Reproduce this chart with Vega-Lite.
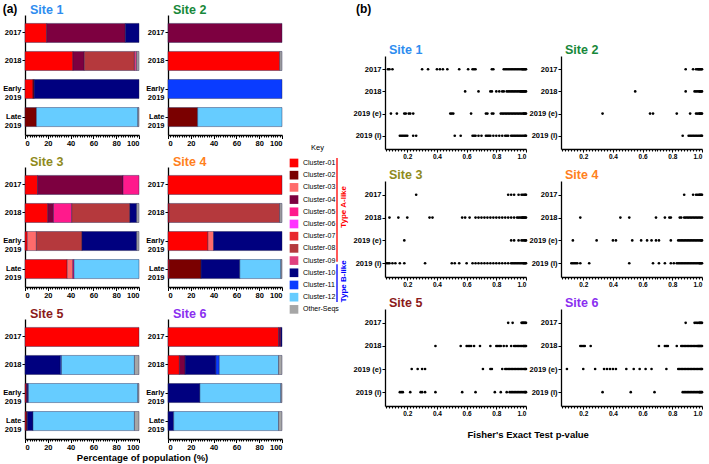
{
"$schema": "https://vega.github.io/schema/vega-lite/v6.json",
"padding": {"left": 2, "top": 2, "right": 0, "bottom": 0},
"background": "white",
"spacing": 0,
"datasets": {
"bars": [
{"site":1,"period":"2017","cluster":"Cluster-01","pct":19},{"site":1,"period":"2017","cluster":"Cluster-04","pct":69},{"site":1,"period":"2017","cluster":"Cluster-10","pct":12},
{"site":1,"period":"2018","cluster":"Cluster-01","pct":42},{"site":1,"period":"2018","cluster":"Cluster-04","pct":10},{"site":1,"period":"2018","cluster":"Cluster-08","pct":44},{"site":1,"period":"2018","cluster":"Cluster-09","pct":2},{"site":1,"period":"2018","cluster":"Other-Seqs","pct":2},
{"site":1,"period":"Early 2019","cluster":"Cluster-01","pct":7},{"site":1,"period":"Early 2019","cluster":"Cluster-02","pct":1},{"site":1,"period":"Early 2019","cluster":"Cluster-10","pct":92},
{"site":1,"period":"Late 2019","cluster":"Cluster-02","pct":10},{"site":1,"period":"Late 2019","cluster":"Cluster-12","pct":89},{"site":1,"period":"Late 2019","cluster":"Other-Seqs","pct":1},
{"site":2,"period":"2017","cluster":"Cluster-04","pct":100},
{"site":2,"period":"2018","cluster":"Cluster-01","pct":98},{"site":2,"period":"2018","cluster":"Other-Seqs","pct":2},
{"site":2,"period":"Early 2019","cluster":"Cluster-11","pct":100},
{"site":2,"period":"Late 2019","cluster":"Cluster-02","pct":26},{"site":2,"period":"Late 2019","cluster":"Cluster-12","pct":74},
{"site":3,"period":"2017","cluster":"Cluster-01","pct":11},{"site":3,"period":"2017","cluster":"Cluster-04","pct":75},{"site":3,"period":"2017","cluster":"Cluster-05","pct":14},
{"site":3,"period":"2018","cluster":"Cluster-01","pct":20},{"site":3,"period":"2018","cluster":"Cluster-04","pct":5},{"site":3,"period":"2018","cluster":"Cluster-05","pct":16},{"site":3,"period":"2018","cluster":"Cluster-08","pct":51},{"site":3,"period":"2018","cluster":"Cluster-10","pct":6},{"site":3,"period":"2018","cluster":"Other-Seqs","pct":2},
{"site":3,"period":"Early 2019","cluster":"Cluster-01","pct":2},{"site":3,"period":"Early 2019","cluster":"Cluster-03","pct":8},{"site":3,"period":"Early 2019","cluster":"Cluster-08","pct":40},{"site":3,"period":"Early 2019","cluster":"Cluster-10","pct":48},{"site":3,"period":"Early 2019","cluster":"Other-Seqs","pct":2},
{"site":3,"period":"Late 2019","cluster":"Cluster-01","pct":37},{"site":3,"period":"Late 2019","cluster":"Cluster-03","pct":5},{"site":3,"period":"Late 2019","cluster":"Cluster-05","pct":1},{"site":3,"period":"Late 2019","cluster":"Cluster-12","pct":57},
{"site":4,"period":"2017","cluster":"Cluster-01","pct":100},
{"site":4,"period":"2018","cluster":"Cluster-01","pct":1},{"site":4,"period":"2018","cluster":"Cluster-08","pct":97},{"site":4,"period":"2018","cluster":"Other-Seqs","pct":2},
{"site":4,"period":"Early 2019","cluster":"Cluster-01","pct":35},{"site":4,"period":"Early 2019","cluster":"Cluster-03","pct":5},{"site":4,"period":"Early 2019","cluster":"Cluster-10","pct":60},
{"site":4,"period":"Late 2019","cluster":"Cluster-01","pct":1},{"site":4,"period":"Late 2019","cluster":"Cluster-02","pct":28},{"site":4,"period":"Late 2019","cluster":"Cluster-10","pct":34},{"site":4,"period":"Late 2019","cluster":"Cluster-12","pct":36},{"site":4,"period":"Late 2019","cluster":"Other-Seqs","pct":1},
{"site":5,"period":"2017","cluster":"Cluster-01","pct":100},
{"site":5,"period":"2018","cluster":"Cluster-10","pct":31},{"site":5,"period":"2018","cluster":"Cluster-11","pct":1},{"site":5,"period":"2018","cluster":"Cluster-12","pct":64},{"site":5,"period":"2018","cluster":"Other-Seqs","pct":4},
{"site":5,"period":"Early 2019","cluster":"Cluster-01","pct":1},{"site":5,"period":"Early 2019","cluster":"Cluster-04","pct":1},{"site":5,"period":"Early 2019","cluster":"Cluster-10","pct":1},{"site":5,"period":"Early 2019","cluster":"Cluster-12","pct":96},{"site":5,"period":"Early 2019","cluster":"Other-Seqs","pct":1},
{"site":5,"period":"Late 2019","cluster":"Cluster-01","pct":1},{"site":5,"period":"Late 2019","cluster":"Cluster-02","pct":1},{"site":5,"period":"Late 2019","cluster":"Cluster-10","pct":5},{"site":5,"period":"Late 2019","cluster":"Cluster-12","pct":89},{"site":5,"period":"Late 2019","cluster":"Other-Seqs","pct":4},
{"site":6,"period":"2017","cluster":"Cluster-01","pct":97},{"site":6,"period":"2017","cluster":"Cluster-04","pct":2},{"site":6,"period":"2017","cluster":"Cluster-10","pct":1},
{"site":6,"period":"2018","cluster":"Cluster-01","pct":10},{"site":6,"period":"2018","cluster":"Cluster-04","pct":5},{"site":6,"period":"2018","cluster":"Cluster-10","pct":27},{"site":6,"period":"2018","cluster":"Cluster-11","pct":3},{"site":6,"period":"2018","cluster":"Cluster-12","pct":52},{"site":6,"period":"2018","cluster":"Other-Seqs","pct":3},
{"site":6,"period":"Early 2019","cluster":"Cluster-10","pct":28},{"site":6,"period":"Early 2019","cluster":"Cluster-12","pct":71},{"site":6,"period":"Early 2019","cluster":"Other-Seqs","pct":1},
{"site":6,"period":"Late 2019","cluster":"Cluster-10","pct":5},{"site":6,"period":"Late 2019","cluster":"Cluster-12","pct":92},{"site":6,"period":"Late 2019","cluster":"Other-Seqs","pct":3}
],
"keys": [
{"cluster":"Cluster-01","i":1},{"cluster":"Cluster-02","i":2},{"cluster":"Cluster-03","i":3},{"cluster":"Cluster-04","i":4},{"cluster":"Cluster-05","i":5},{"cluster":"Cluster-06","i":6},{"cluster":"Cluster-07","i":7},{"cluster":"Cluster-08","i":8},{"cluster":"Cluster-09","i":9},{"cluster":"Cluster-10","i":10},{"cluster":"Cluster-11","i":11},{"cluster":"Cluster-12","i":12},{"cluster":"Other-Seqs","i":13}
],
"groups": [
{"g":"Type A-like","from":0.6,"to":9.1,"mid":4.6},{"g":"Type B-like","from":9.3,"to":12.4,"mid":10.7}
],
"pv": [
{"s":1,"t":"2017","p":0.07},{"s":1,"t":"2017","p":0.08},{"s":1,"t":"2017","p":0.10},{"s":1,"t":"2017","p":0.30},{"s":1,"t":"2017","p":0.34},{"s":1,"t":"2017","p":0.40},{"s":1,"t":"2017","p":0.42},{"s":1,"t":"2017","p":0.44},{"s":1,"t":"2017","p":0.47},{"s":1,"t":"2017","p":0.55},{"s":1,"t":"2017","p":0.61},{"s":1,"t":"2017","p":0.64},{"s":1,"t":"2017","p":0.65},{"s":1,"t":"2017","p":0.66},{"s":1,"t":"2017","p":0.77},{"s":1,"t":"2017","p":0.78},{"s":1,"t":"2017","p":0.85},{"s":1,"t":"2017","p":0.86},{"s":1,"t":"2017","p":0.87},{"s":1,"t":"2017","p":0.88},{"s":1,"t":"2017","p":0.89},{"s":1,"t":"2017","p":0.90},{"s":1,"t":"2017","p":0.91},{"s":1,"t":"2017","p":0.92},{"s":1,"t":"2017","p":0.93},{"s":1,"t":"2017","p":0.94},{"s":1,"t":"2017","p":0.95},{"s":1,"t":"2017","p":0.96},{"s":1,"t":"2017","p":0.97},{"s":1,"t":"2017","p":0.975},{"s":1,"t":"2017","p":0.98},{"s":1,"t":"2017","p":0.985},{"s":1,"t":"2017","p":0.99},{"s":1,"t":"2017","p":0.995},{"s":1,"t":"2017","p":1.0},
{"s":1,"t":"2018","p":0.59},{"s":1,"t":"2018","p":0.68},{"s":1,"t":"2018","p":0.76},{"s":1,"t":"2018","p":0.77},{"s":1,"t":"2018","p":0.80},{"s":1,"t":"2018","p":0.82},{"s":1,"t":"2018","p":0.84},{"s":1,"t":"2018","p":0.85},{"s":1,"t":"2018","p":0.87},{"s":1,"t":"2018","p":0.88},{"s":1,"t":"2018","p":0.89},{"s":1,"t":"2018","p":0.90},{"s":1,"t":"2018","p":0.91},{"s":1,"t":"2018","p":0.92},{"s":1,"t":"2018","p":0.93},{"s":1,"t":"2018","p":0.94},{"s":1,"t":"2018","p":0.95},{"s":1,"t":"2018","p":0.96},{"s":1,"t":"2018","p":0.965},{"s":1,"t":"2018","p":0.97},{"s":1,"t":"2018","p":0.975},{"s":1,"t":"2018","p":0.98},{"s":1,"t":"2018","p":0.985},{"s":1,"t":"2018","p":0.99},{"s":1,"t":"2018","p":0.995},{"s":1,"t":"2018","p":1.0},
{"s":1,"t":"2019 (e)","p":0.09},{"s":1,"t":"2019 (e)","p":0.13},{"s":1,"t":"2019 (e)","p":0.18},{"s":1,"t":"2019 (e)","p":0.19},{"s":1,"t":"2019 (e)","p":0.21},{"s":1,"t":"2019 (e)","p":0.22},{"s":1,"t":"2019 (e)","p":0.24},{"s":1,"t":"2019 (e)","p":0.49},{"s":1,"t":"2019 (e)","p":0.50},{"s":1,"t":"2019 (e)","p":0.51},{"s":1,"t":"2019 (e)","p":0.63},{"s":1,"t":"2019 (e)","p":0.73},{"s":1,"t":"2019 (e)","p":0.74},{"s":1,"t":"2019 (e)","p":0.77},{"s":1,"t":"2019 (e)","p":0.78},{"s":1,"t":"2019 (e)","p":0.83},{"s":1,"t":"2019 (e)","p":0.84},{"s":1,"t":"2019 (e)","p":0.85},{"s":1,"t":"2019 (e)","p":0.86},{"s":1,"t":"2019 (e)","p":0.87},{"s":1,"t":"2019 (e)","p":0.88},{"s":1,"t":"2019 (e)","p":0.89},{"s":1,"t":"2019 (e)","p":0.90},{"s":1,"t":"2019 (e)","p":0.91},{"s":1,"t":"2019 (e)","p":0.92},{"s":1,"t":"2019 (e)","p":0.93},{"s":1,"t":"2019 (e)","p":0.94},{"s":1,"t":"2019 (e)","p":0.95},{"s":1,"t":"2019 (e)","p":0.96},{"s":1,"t":"2019 (e)","p":0.97},{"s":1,"t":"2019 (e)","p":0.98},{"s":1,"t":"2019 (e)","p":0.985},{"s":1,"t":"2019 (e)","p":0.99},{"s":1,"t":"2019 (e)","p":0.995},{"s":1,"t":"2019 (e)","p":1.0},
{"s":1,"t":"2019 (l)","p":0.15},{"s":1,"t":"2019 (l)","p":0.16},{"s":1,"t":"2019 (l)","p":0.17},{"s":1,"t":"2019 (l)","p":0.18},{"s":1,"t":"2019 (l)","p":0.19},{"s":1,"t":"2019 (l)","p":0.20},{"s":1,"t":"2019 (l)","p":0.24},{"s":1,"t":"2019 (l)","p":0.26},{"s":1,"t":"2019 (l)","p":0.52},{"s":1,"t":"2019 (l)","p":0.56},{"s":1,"t":"2019 (l)","p":0.64},{"s":1,"t":"2019 (l)","p":0.65},{"s":1,"t":"2019 (l)","p":0.66},{"s":1,"t":"2019 (l)","p":0.68},{"s":1,"t":"2019 (l)","p":0.70},{"s":1,"t":"2019 (l)","p":0.73},{"s":1,"t":"2019 (l)","p":0.74},{"s":1,"t":"2019 (l)","p":0.75},{"s":1,"t":"2019 (l)","p":0.76},{"s":1,"t":"2019 (l)","p":0.78},{"s":1,"t":"2019 (l)","p":0.80},{"s":1,"t":"2019 (l)","p":0.82},{"s":1,"t":"2019 (l)","p":0.84},{"s":1,"t":"2019 (l)","p":0.86},{"s":1,"t":"2019 (l)","p":0.87},{"s":1,"t":"2019 (l)","p":0.88},{"s":1,"t":"2019 (l)","p":0.90},{"s":1,"t":"2019 (l)","p":0.91},{"s":1,"t":"2019 (l)","p":0.92},{"s":1,"t":"2019 (l)","p":0.93},{"s":1,"t":"2019 (l)","p":0.94},{"s":1,"t":"2019 (l)","p":0.95},{"s":1,"t":"2019 (l)","p":0.96},{"s":1,"t":"2019 (l)","p":0.97},{"s":1,"t":"2019 (l)","p":0.98},{"s":1,"t":"2019 (l)","p":0.99},{"s":1,"t":"2019 (l)","p":0.995},{"s":1,"t":"2019 (l)","p":1.0},
{"s":2,"t":"2017","p":0.89},{"s":2,"t":"2017","p":0.94},{"s":2,"t":"2017","p":0.96},{"s":2,"t":"2017","p":0.97},{"s":2,"t":"2017","p":0.975},{"s":2,"t":"2017","p":0.98},{"s":2,"t":"2017","p":0.985},{"s":2,"t":"2017","p":0.99},{"s":2,"t":"2017","p":0.995},{"s":2,"t":"2017","p":1.0},
{"s":2,"t":"2018","p":0.55},{"s":2,"t":"2018","p":0.89},{"s":2,"t":"2018","p":0.95},{"s":2,"t":"2018","p":0.96},{"s":2,"t":"2018","p":0.97},{"s":2,"t":"2018","p":0.98},{"s":2,"t":"2018","p":0.985},{"s":2,"t":"2018","p":0.99},{"s":2,"t":"2018","p":0.995},{"s":2,"t":"2018","p":1.0},
{"s":2,"t":"2019 (e)","p":0.33},{"s":2,"t":"2019 (e)","p":0.65},{"s":2,"t":"2019 (e)","p":0.67},{"s":2,"t":"2019 (e)","p":0.83},{"s":2,"t":"2019 (e)","p":0.92},{"s":2,"t":"2019 (e)","p":0.96},{"s":2,"t":"2019 (e)","p":0.97},{"s":2,"t":"2019 (e)","p":0.98},{"s":2,"t":"2019 (e)","p":0.985},{"s":2,"t":"2019 (e)","p":0.99},{"s":2,"t":"2019 (e)","p":0.995},{"s":2,"t":"2019 (e)","p":1.0},
{"s":2,"t":"2019 (l)","p":0.87},{"s":2,"t":"2019 (l)","p":0.91},{"s":2,"t":"2019 (l)","p":0.92},{"s":2,"t":"2019 (l)","p":0.93},{"s":2,"t":"2019 (l)","p":0.94},{"s":2,"t":"2019 (l)","p":0.95},{"s":2,"t":"2019 (l)","p":0.96},{"s":2,"t":"2019 (l)","p":0.97},{"s":2,"t":"2019 (l)","p":0.98},{"s":2,"t":"2019 (l)","p":0.99},{"s":2,"t":"2019 (l)","p":0.995},{"s":2,"t":"2019 (l)","p":1.0},
{"s":3,"t":"2017","p":0.26},{"s":3,"t":"2017","p":0.88},{"s":3,"t":"2017","p":0.90},{"s":3,"t":"2017","p":0.92},{"s":3,"t":"2017","p":0.95},{"s":3,"t":"2017","p":0.97},{"s":3,"t":"2017","p":0.98},{"s":3,"t":"2017","p":0.99},{"s":3,"t":"2017","p":0.995},{"s":3,"t":"2017","p":1.0},
{"s":3,"t":"2018","p":0.08},{"s":3,"t":"2018","p":0.14},{"s":3,"t":"2018","p":0.20},{"s":3,"t":"2018","p":0.35},{"s":3,"t":"2018","p":0.37},{"s":3,"t":"2018","p":0.57},{"s":3,"t":"2018","p":0.59},{"s":3,"t":"2018","p":0.62},{"s":3,"t":"2018","p":0.66},{"s":3,"t":"2018","p":0.68},{"s":3,"t":"2018","p":0.70},{"s":3,"t":"2018","p":0.72},{"s":3,"t":"2018","p":0.74},{"s":3,"t":"2018","p":0.76},{"s":3,"t":"2018","p":0.78},{"s":3,"t":"2018","p":0.80},{"s":3,"t":"2018","p":0.82},{"s":3,"t":"2018","p":0.84},{"s":3,"t":"2018","p":0.86},{"s":3,"t":"2018","p":0.88},{"s":3,"t":"2018","p":0.90},{"s":3,"t":"2018","p":0.92},{"s":3,"t":"2018","p":0.94},{"s":3,"t":"2018","p":0.95},{"s":3,"t":"2018","p":0.96},{"s":3,"t":"2018","p":0.97},{"s":3,"t":"2018","p":0.975},{"s":3,"t":"2018","p":0.98},{"s":3,"t":"2018","p":0.985},{"s":3,"t":"2018","p":0.99},{"s":3,"t":"2018","p":0.995},{"s":3,"t":"2018","p":1.0},
{"s":3,"t":"2019 (e)","p":0.18},{"s":3,"t":"2019 (e)","p":0.90},{"s":3,"t":"2019 (e)","p":0.92},{"s":3,"t":"2019 (e)","p":0.95},{"s":3,"t":"2019 (e)","p":0.97},{"s":3,"t":"2019 (e)","p":0.98},{"s":3,"t":"2019 (e)","p":0.99},{"s":3,"t":"2019 (e)","p":0.995},{"s":3,"t":"2019 (e)","p":1.0},
{"s":3,"t":"2019 (l)","p":0.06},{"s":3,"t":"2019 (l)","p":0.07},{"s":3,"t":"2019 (l)","p":0.08},{"s":3,"t":"2019 (l)","p":0.10},{"s":3,"t":"2019 (l)","p":0.12},{"s":3,"t":"2019 (l)","p":0.15},{"s":3,"t":"2019 (l)","p":0.18},{"s":3,"t":"2019 (l)","p":0.32},{"s":3,"t":"2019 (l)","p":0.50},{"s":3,"t":"2019 (l)","p":0.52},{"s":3,"t":"2019 (l)","p":0.55},{"s":3,"t":"2019 (l)","p":0.60},{"s":3,"t":"2019 (l)","p":0.64},{"s":3,"t":"2019 (l)","p":0.66},{"s":3,"t":"2019 (l)","p":0.68},{"s":3,"t":"2019 (l)","p":0.70},{"s":3,"t":"2019 (l)","p":0.72},{"s":3,"t":"2019 (l)","p":0.74},{"s":3,"t":"2019 (l)","p":0.76},{"s":3,"t":"2019 (l)","p":0.78},{"s":3,"t":"2019 (l)","p":0.80},{"s":3,"t":"2019 (l)","p":0.82},{"s":3,"t":"2019 (l)","p":0.84},{"s":3,"t":"2019 (l)","p":0.86},{"s":3,"t":"2019 (l)","p":0.88},{"s":3,"t":"2019 (l)","p":0.90},{"s":3,"t":"2019 (l)","p":0.91},{"s":3,"t":"2019 (l)","p":0.92},{"s":3,"t":"2019 (l)","p":0.93},{"s":3,"t":"2019 (l)","p":0.94},{"s":3,"t":"2019 (l)","p":0.95},{"s":3,"t":"2019 (l)","p":0.96},{"s":3,"t":"2019 (l)","p":0.97},{"s":3,"t":"2019 (l)","p":0.98},{"s":3,"t":"2019 (l)","p":0.985},{"s":3,"t":"2019 (l)","p":0.99},{"s":3,"t":"2019 (l)","p":0.995},{"s":3,"t":"2019 (l)","p":1.0},
{"s":4,"t":"2017","p":0.88},{"s":4,"t":"2017","p":0.94},{"s":4,"t":"2017","p":0.96},{"s":4,"t":"2017","p":0.97},{"s":4,"t":"2017","p":0.98},{"s":4,"t":"2017","p":0.985},{"s":4,"t":"2017","p":0.99},{"s":4,"t":"2017","p":0.995},{"s":4,"t":"2017","p":1.0},
{"s":4,"t":"2018","p":0.18},{"s":4,"t":"2018","p":0.45},{"s":4,"t":"2018","p":0.51},{"s":4,"t":"2018","p":0.69},{"s":4,"t":"2018","p":0.75},{"s":4,"t":"2018","p":0.78},{"s":4,"t":"2018","p":0.79},{"s":4,"t":"2018","p":0.85},{"s":4,"t":"2018","p":0.86},{"s":4,"t":"2018","p":0.88},{"s":4,"t":"2018","p":0.89},{"s":4,"t":"2018","p":0.90},{"s":4,"t":"2018","p":0.91},{"s":4,"t":"2018","p":0.92},{"s":4,"t":"2018","p":0.93},{"s":4,"t":"2018","p":0.94},{"s":4,"t":"2018","p":0.95},{"s":4,"t":"2018","p":0.96},{"s":4,"t":"2018","p":0.97},{"s":4,"t":"2018","p":0.98},{"s":4,"t":"2018","p":0.99},{"s":4,"t":"2018","p":1.0},
{"s":4,"t":"2019 (e)","p":0.13},{"s":4,"t":"2019 (e)","p":0.29},{"s":4,"t":"2019 (e)","p":0.40},{"s":4,"t":"2019 (e)","p":0.42},{"s":4,"t":"2019 (e)","p":0.53},{"s":4,"t":"2019 (e)","p":0.59},{"s":4,"t":"2019 (e)","p":0.63},{"s":4,"t":"2019 (e)","p":0.66},{"s":4,"t":"2019 (e)","p":0.69},{"s":4,"t":"2019 (e)","p":0.71},{"s":4,"t":"2019 (e)","p":0.79},{"s":4,"t":"2019 (e)","p":0.84},{"s":4,"t":"2019 (e)","p":0.85},{"s":4,"t":"2019 (e)","p":0.86},{"s":4,"t":"2019 (e)","p":0.87},{"s":4,"t":"2019 (e)","p":0.88},{"s":4,"t":"2019 (e)","p":0.89},{"s":4,"t":"2019 (e)","p":0.90},{"s":4,"t":"2019 (e)","p":0.91},{"s":4,"t":"2019 (e)","p":0.92},{"s":4,"t":"2019 (e)","p":0.93},{"s":4,"t":"2019 (e)","p":0.94},{"s":4,"t":"2019 (e)","p":0.95},{"s":4,"t":"2019 (e)","p":0.96},{"s":4,"t":"2019 (e)","p":0.97},{"s":4,"t":"2019 (e)","p":0.98},{"s":4,"t":"2019 (e)","p":0.99},{"s":4,"t":"2019 (e)","p":0.995},{"s":4,"t":"2019 (e)","p":1.0},
{"s":4,"t":"2019 (l)","p":0.12},{"s":4,"t":"2019 (l)","p":0.13},{"s":4,"t":"2019 (l)","p":0.14},{"s":4,"t":"2019 (l)","p":0.15},{"s":4,"t":"2019 (l)","p":0.16},{"s":4,"t":"2019 (l)","p":0.18},{"s":4,"t":"2019 (l)","p":0.24},{"s":4,"t":"2019 (l)","p":0.51},{"s":4,"t":"2019 (l)","p":0.67},{"s":4,"t":"2019 (l)","p":0.71},{"s":4,"t":"2019 (l)","p":0.75},{"s":4,"t":"2019 (l)","p":0.79},{"s":4,"t":"2019 (l)","p":0.81},{"s":4,"t":"2019 (l)","p":0.83},{"s":4,"t":"2019 (l)","p":0.84},{"s":4,"t":"2019 (l)","p":0.85},{"s":4,"t":"2019 (l)","p":0.86},{"s":4,"t":"2019 (l)","p":0.87},{"s":4,"t":"2019 (l)","p":0.88},{"s":4,"t":"2019 (l)","p":0.89},{"s":4,"t":"2019 (l)","p":0.90},{"s":4,"t":"2019 (l)","p":0.91},{"s":4,"t":"2019 (l)","p":0.92},{"s":4,"t":"2019 (l)","p":0.93},{"s":4,"t":"2019 (l)","p":0.94},{"s":4,"t":"2019 (l)","p":0.95},{"s":4,"t":"2019 (l)","p":0.96},{"s":4,"t":"2019 (l)","p":0.97},{"s":4,"t":"2019 (l)","p":0.98},{"s":4,"t":"2019 (l)","p":0.985},{"s":4,"t":"2019 (l)","p":0.99},{"s":4,"t":"2019 (l)","p":0.995},{"s":4,"t":"2019 (l)","p":1.0},
{"s":5,"t":"2017","p":0.88},{"s":5,"t":"2017","p":0.91},{"s":5,"t":"2017","p":0.97},{"s":5,"t":"2017","p":0.975},{"s":5,"t":"2017","p":0.98},{"s":5,"t":"2017","p":0.985},{"s":5,"t":"2017","p":0.99},{"s":5,"t":"2017","p":0.995},{"s":5,"t":"2017","p":1.0},
{"s":5,"t":"2018","p":0.39},{"s":5,"t":"2018","p":0.56},{"s":5,"t":"2018","p":0.60},{"s":5,"t":"2018","p":0.61},{"s":5,"t":"2018","p":0.62},{"s":5,"t":"2018","p":0.63},{"s":5,"t":"2018","p":0.65},{"s":5,"t":"2018","p":0.69},{"s":5,"t":"2018","p":0.76},{"s":5,"t":"2018","p":0.80},{"s":5,"t":"2018","p":0.81},{"s":5,"t":"2018","p":0.82},{"s":5,"t":"2018","p":0.83},{"s":5,"t":"2018","p":0.85},{"s":5,"t":"2018","p":0.87},{"s":5,"t":"2018","p":0.90},{"s":5,"t":"2018","p":0.92},{"s":5,"t":"2018","p":0.93},{"s":5,"t":"2018","p":0.94},{"s":5,"t":"2018","p":0.95},{"s":5,"t":"2018","p":0.96},{"s":5,"t":"2018","p":0.97},{"s":5,"t":"2018","p":0.98},{"s":5,"t":"2018","p":0.985},{"s":5,"t":"2018","p":0.99},{"s":5,"t":"2018","p":0.995},{"s":5,"t":"2018","p":1.0},
{"s":5,"t":"2019 (e)","p":0.23},{"s":5,"t":"2019 (e)","p":0.27},{"s":5,"t":"2019 (e)","p":0.30},{"s":5,"t":"2019 (e)","p":0.32},{"s":5,"t":"2019 (e)","p":0.71},{"s":5,"t":"2019 (e)","p":0.76},{"s":5,"t":"2019 (e)","p":0.77},{"s":5,"t":"2019 (e)","p":0.84},{"s":5,"t":"2019 (e)","p":0.86},{"s":5,"t":"2019 (e)","p":0.87},{"s":5,"t":"2019 (e)","p":0.88},{"s":5,"t":"2019 (e)","p":0.89},{"s":5,"t":"2019 (e)","p":0.90},{"s":5,"t":"2019 (e)","p":0.91},{"s":5,"t":"2019 (e)","p":0.92},{"s":5,"t":"2019 (e)","p":0.93},{"s":5,"t":"2019 (e)","p":0.94},{"s":5,"t":"2019 (e)","p":0.95},{"s":5,"t":"2019 (e)","p":0.96},{"s":5,"t":"2019 (e)","p":0.97},{"s":5,"t":"2019 (e)","p":0.98},{"s":5,"t":"2019 (e)","p":0.99},{"s":5,"t":"2019 (e)","p":0.995},{"s":5,"t":"2019 (e)","p":1.0},
{"s":5,"t":"2019 (l)","p":0.15},{"s":5,"t":"2019 (l)","p":0.16},{"s":5,"t":"2019 (l)","p":0.17},{"s":5,"t":"2019 (l)","p":0.22},{"s":5,"t":"2019 (l)","p":0.29},{"s":5,"t":"2019 (l)","p":0.30},{"s":5,"t":"2019 (l)","p":0.32},{"s":5,"t":"2019 (l)","p":0.39},{"s":5,"t":"2019 (l)","p":0.57},{"s":5,"t":"2019 (l)","p":0.66},{"s":5,"t":"2019 (l)","p":0.79},{"s":5,"t":"2019 (l)","p":0.83},{"s":5,"t":"2019 (l)","p":0.87},{"s":5,"t":"2019 (l)","p":0.89},{"s":5,"t":"2019 (l)","p":0.90},{"s":5,"t":"2019 (l)","p":0.91},{"s":5,"t":"2019 (l)","p":0.92},{"s":5,"t":"2019 (l)","p":0.93},{"s":5,"t":"2019 (l)","p":0.94},{"s":5,"t":"2019 (l)","p":0.95},{"s":5,"t":"2019 (l)","p":0.96},{"s":5,"t":"2019 (l)","p":0.97},{"s":5,"t":"2019 (l)","p":0.98},{"s":5,"t":"2019 (l)","p":0.99},{"s":5,"t":"2019 (l)","p":0.995},{"s":5,"t":"2019 (l)","p":1.0},
{"s":6,"t":"2017","p":0.89},{"s":6,"t":"2017","p":0.95},{"s":6,"t":"2017","p":0.96},{"s":6,"t":"2017","p":0.97},{"s":6,"t":"2017","p":0.98},{"s":6,"t":"2017","p":0.985},{"s":6,"t":"2017","p":0.99},{"s":6,"t":"2017","p":0.995},{"s":6,"t":"2017","p":1.0},
{"s":6,"t":"2018","p":0.18},{"s":6,"t":"2018","p":0.19},{"s":6,"t":"2018","p":0.20},{"s":6,"t":"2018","p":0.21},{"s":6,"t":"2018","p":0.25},{"s":6,"t":"2018","p":0.71},{"s":6,"t":"2018","p":0.75},{"s":6,"t":"2018","p":0.76},{"s":6,"t":"2018","p":0.77},{"s":6,"t":"2018","p":0.83},{"s":6,"t":"2018","p":0.86},{"s":6,"t":"2018","p":0.87},{"s":6,"t":"2018","p":0.88},{"s":6,"t":"2018","p":0.89},{"s":6,"t":"2018","p":0.90},{"s":6,"t":"2018","p":0.91},{"s":6,"t":"2018","p":0.92},{"s":6,"t":"2018","p":0.93},{"s":6,"t":"2018","p":0.94},{"s":6,"t":"2018","p":0.95},{"s":6,"t":"2018","p":0.96},{"s":6,"t":"2018","p":0.97},{"s":6,"t":"2018","p":0.975},{"s":6,"t":"2018","p":0.98},{"s":6,"t":"2018","p":0.985},{"s":6,"t":"2018","p":0.99},{"s":6,"t":"2018","p":0.995},{"s":6,"t":"2018","p":1.0},
{"s":6,"t":"2019 (e)","p":0.09},{"s":6,"t":"2019 (e)","p":0.20},{"s":6,"t":"2019 (e)","p":0.28},{"s":6,"t":"2019 (e)","p":0.34},{"s":6,"t":"2019 (e)","p":0.36},{"s":6,"t":"2019 (e)","p":0.38},{"s":6,"t":"2019 (e)","p":0.40},{"s":6,"t":"2019 (e)","p":0.42},{"s":6,"t":"2019 (e)","p":0.49},{"s":6,"t":"2019 (e)","p":0.54},{"s":6,"t":"2019 (e)","p":0.58},{"s":6,"t":"2019 (e)","p":0.62},{"s":6,"t":"2019 (e)","p":0.66},{"s":6,"t":"2019 (e)","p":0.76},{"s":6,"t":"2019 (e)","p":0.84},{"s":6,"t":"2019 (e)","p":0.85},{"s":6,"t":"2019 (e)","p":0.86},{"s":6,"t":"2019 (e)","p":0.87},{"s":6,"t":"2019 (e)","p":0.88},{"s":6,"t":"2019 (e)","p":0.89},{"s":6,"t":"2019 (e)","p":0.90},{"s":6,"t":"2019 (e)","p":0.91},{"s":6,"t":"2019 (e)","p":0.92},{"s":6,"t":"2019 (e)","p":0.93},{"s":6,"t":"2019 (e)","p":0.94},{"s":6,"t":"2019 (e)","p":0.95},{"s":6,"t":"2019 (e)","p":0.96},{"s":6,"t":"2019 (e)","p":0.97},{"s":6,"t":"2019 (e)","p":0.98},{"s":6,"t":"2019 (e)","p":0.99},{"s":6,"t":"2019 (e)","p":0.995},{"s":6,"t":"2019 (e)","p":1.0},
{"s":6,"t":"2019 (l)","p":0.33},{"s":6,"t":"2019 (l)","p":0.52},{"s":6,"t":"2019 (l)","p":0.68},{"s":6,"t":"2019 (l)","p":0.87},{"s":6,"t":"2019 (l)","p":0.88},{"s":6,"t":"2019 (l)","p":0.89},{"s":6,"t":"2019 (l)","p":0.90},{"s":6,"t":"2019 (l)","p":0.91},{"s":6,"t":"2019 (l)","p":0.92},{"s":6,"t":"2019 (l)","p":0.93},{"s":6,"t":"2019 (l)","p":0.94},{"s":6,"t":"2019 (l)","p":0.95},{"s":6,"t":"2019 (l)","p":0.96},{"s":6,"t":"2019 (l)","p":0.97},{"s":6,"t":"2019 (l)","p":0.98},{"s":6,"t":"2019 (l)","p":0.985},{"s":6,"t":"2019 (l)","p":0.99},{"s":6,"t":"2019 (l)","p":0.995},{"s":6,"t":"2019 (l)","p":1.0}
]
},
"hconcat": [
{
"title": {"text": "(a)", "fontSize": 12, "color": "#000", "frame": "bounds", "anchor": "start", "offset": 0, "dy": 12},
"spacing": 8,
"vconcat": [
{"spacing": 5, "hconcat": [
{"width":114,"height":120,"title":{"text":"Site 1","color":"#2E8DEF","dx":5,"offset":-1},"data":{"name":"bars"},"transform":[{"filter":"datum.site == 1"}],"mark":{"type":"bar","stroke":"#1a1a4a","strokeWidth":0.4},"encoding":{"y":{"field":"period","type":"nominal","title":null,"sort":["2017","2018","Early 2019","Late 2019"],"scale":{"paddingInner":0.32,"paddingOuter":0.3},"axis":{"labelExpr":"split(datum.label, ' ')","labelFontSize":7.5,"labelLineHeight":8.5}},"x":{"field":"pct","type":"quantitative","title":null,"scale":{"domain":[0,100]},"axis":{"values":[0,2,4,6,8,10,12,14,16,18,20,22,24,26,28,30,32,34,36,38,40,42,44,46,48,50,52,54,56,58,60,62,64,66,68,70,72,74,76,78,80,82,84,86,88,90,92,94,96,98,100],"labelExpr":"datum.value % 20 === 0 ? datum.label : ''","labelOverlap":false,"tickSize":{"condition":{"test":"datum.value % 20 === 0","value":3.5},"value":2},"labelFontSize":7.5}},"color":{"field":"cluster","type":"nominal","legend":null,"scale":{"domain":["Cluster-01","Cluster-02","Cluster-03","Cluster-04","Cluster-05","Cluster-06","Cluster-07","Cluster-08","Cluster-09","Cluster-10","Cluster-11","Cluster-12","Other-Seqs"],"range":["#FF0000","#7A0000","#FF6B6B","#7D0040","#FF1A8C","#FF33FF","#E8282E","#B5393D","#E0407F","#00007F","#0A3CFF","#66CCFF","#A6A6A6"]}},"order":{"field":"cluster","type":"ordinal","sort":"ascending"}}},
{"width":114,"height":120,"title":{"text":"Site 2","color":"#18883A","dx":5,"offset":-1},"data":{"name":"bars"},"transform":[{"filter":"datum.site == 2"}],"mark":{"type":"bar","stroke":"#1a1a4a","strokeWidth":0.4},"encoding":{"y":{"field":"period","type":"nominal","title":null,"sort":["2017","2018","Early 2019","Late 2019"],"scale":{"paddingInner":0.32,"paddingOuter":0.3},"axis":{"labelExpr":"split(datum.label, ' ')","labelFontSize":7.5,"labelLineHeight":8.5}},"x":{"field":"pct","type":"quantitative","title":null,"scale":{"domain":[0,100]},"axis":{"values":[0,2,4,6,8,10,12,14,16,18,20,22,24,26,28,30,32,34,36,38,40,42,44,46,48,50,52,54,56,58,60,62,64,66,68,70,72,74,76,78,80,82,84,86,88,90,92,94,96,98,100],"labelExpr":"datum.value % 20 === 0 ? datum.label : ''","labelOverlap":false,"tickSize":{"condition":{"test":"datum.value % 20 === 0","value":3.5},"value":2},"labelFontSize":7.5}},"color":{"field":"cluster","type":"nominal","legend":null,"scale":{"domain":["Cluster-01","Cluster-02","Cluster-03","Cluster-04","Cluster-05","Cluster-06","Cluster-07","Cluster-08","Cluster-09","Cluster-10","Cluster-11","Cluster-12","Other-Seqs"],"range":["#FF0000","#7A0000","#FF6B6B","#7D0040","#FF1A8C","#FF33FF","#E8282E","#B5393D","#E0407F","#00007F","#0A3CFF","#66CCFF","#A6A6A6"]}},"order":{"field":"cluster","type":"ordinal","sort":"ascending"}}}
]},
{"spacing": 5, "hconcat": [
{"width":114,"height":120,"title":{"text":"Site 3","color":"#8F8A1C","dx":5,"offset":-1},"data":{"name":"bars"},"transform":[{"filter":"datum.site == 3"}],"mark":{"type":"bar","stroke":"#1a1a4a","strokeWidth":0.4},"encoding":{"y":{"field":"period","type":"nominal","title":null,"sort":["2017","2018","Early 2019","Late 2019"],"scale":{"paddingInner":0.32,"paddingOuter":0.3},"axis":{"labelExpr":"split(datum.label, ' ')","labelFontSize":7.5,"labelLineHeight":8.5}},"x":{"field":"pct","type":"quantitative","title":null,"scale":{"domain":[0,100]},"axis":{"values":[0,2,4,6,8,10,12,14,16,18,20,22,24,26,28,30,32,34,36,38,40,42,44,46,48,50,52,54,56,58,60,62,64,66,68,70,72,74,76,78,80,82,84,86,88,90,92,94,96,98,100],"labelExpr":"datum.value % 20 === 0 ? datum.label : ''","labelOverlap":false,"tickSize":{"condition":{"test":"datum.value % 20 === 0","value":3.5},"value":2},"labelFontSize":7.5}},"color":{"field":"cluster","type":"nominal","legend":null,"scale":{"domain":["Cluster-01","Cluster-02","Cluster-03","Cluster-04","Cluster-05","Cluster-06","Cluster-07","Cluster-08","Cluster-09","Cluster-10","Cluster-11","Cluster-12","Other-Seqs"],"range":["#FF0000","#7A0000","#FF6B6B","#7D0040","#FF1A8C","#FF33FF","#E8282E","#B5393D","#E0407F","#00007F","#0A3CFF","#66CCFF","#A6A6A6"]}},"order":{"field":"cluster","type":"ordinal","sort":"ascending"}}},
{"width":114,"height":120,"title":{"text":"Site 4","color":"#FF8020","dx":5,"offset":-1},"data":{"name":"bars"},"transform":[{"filter":"datum.site == 4"}],"mark":{"type":"bar","stroke":"#1a1a4a","strokeWidth":0.4},"encoding":{"y":{"field":"period","type":"nominal","title":null,"sort":["2017","2018","Early 2019","Late 2019"],"scale":{"paddingInner":0.32,"paddingOuter":0.3},"axis":{"labelExpr":"split(datum.label, ' ')","labelFontSize":7.5,"labelLineHeight":8.5}},"x":{"field":"pct","type":"quantitative","title":null,"scale":{"domain":[0,100]},"axis":{"values":[0,2,4,6,8,10,12,14,16,18,20,22,24,26,28,30,32,34,36,38,40,42,44,46,48,50,52,54,56,58,60,62,64,66,68,70,72,74,76,78,80,82,84,86,88,90,92,94,96,98,100],"labelExpr":"datum.value % 20 === 0 ? datum.label : ''","labelOverlap":false,"tickSize":{"condition":{"test":"datum.value % 20 === 0","value":3.5},"value":2},"labelFontSize":7.5}},"color":{"field":"cluster","type":"nominal","legend":null,"scale":{"domain":["Cluster-01","Cluster-02","Cluster-03","Cluster-04","Cluster-05","Cluster-06","Cluster-07","Cluster-08","Cluster-09","Cluster-10","Cluster-11","Cluster-12","Other-Seqs"],"range":["#FF0000","#7A0000","#FF6B6B","#7D0040","#FF1A8C","#FF33FF","#E8282E","#B5393D","#E0407F","#00007F","#0A3CFF","#66CCFF","#A6A6A6"]}},"order":{"field":"cluster","type":"ordinal","sort":"ascending"}}}
]},
{"spacing": 5, "title": {"text": "Percentage of population (%)", "orient": "bottom", "anchor": "middle", "frame": "bounds", "fontSize": 9.5, "offset": 2, "color": "#000"}, "hconcat": [
{"width":114,"height":120,"title":{"text":"Site 5","color":"#8B1A1A","dx":5,"offset":-1},"data":{"name":"bars"},"transform":[{"filter":"datum.site == 5"}],"mark":{"type":"bar","stroke":"#1a1a4a","strokeWidth":0.4},"encoding":{"y":{"field":"period","type":"nominal","title":null,"sort":["2017","2018","Early 2019","Late 2019"],"scale":{"paddingInner":0.32,"paddingOuter":0.3},"axis":{"labelExpr":"split(datum.label, ' ')","labelFontSize":7.5,"labelLineHeight":8.5}},"x":{"field":"pct","type":"quantitative","title":null,"scale":{"domain":[0,100]},"axis":{"values":[0,2,4,6,8,10,12,14,16,18,20,22,24,26,28,30,32,34,36,38,40,42,44,46,48,50,52,54,56,58,60,62,64,66,68,70,72,74,76,78,80,82,84,86,88,90,92,94,96,98,100],"labelExpr":"datum.value % 20 === 0 ? datum.label : ''","labelOverlap":false,"tickSize":{"condition":{"test":"datum.value % 20 === 0","value":3.5},"value":2},"labelFontSize":7.5}},"color":{"field":"cluster","type":"nominal","legend":null,"scale":{"domain":["Cluster-01","Cluster-02","Cluster-03","Cluster-04","Cluster-05","Cluster-06","Cluster-07","Cluster-08","Cluster-09","Cluster-10","Cluster-11","Cluster-12","Other-Seqs"],"range":["#FF0000","#7A0000","#FF6B6B","#7D0040","#FF1A8C","#FF33FF","#E8282E","#B5393D","#E0407F","#00007F","#0A3CFF","#66CCFF","#A6A6A6"]}},"order":{"field":"cluster","type":"ordinal","sort":"ascending"}}},
{"width":114,"height":120,"title":{"text":"Site 6","color":"#8B2FF0","dx":5,"offset":-1},"data":{"name":"bars"},"transform":[{"filter":"datum.site == 6"}],"mark":{"type":"bar","stroke":"#1a1a4a","strokeWidth":0.4},"encoding":{"y":{"field":"period","type":"nominal","title":null,"sort":["2017","2018","Early 2019","Late 2019"],"scale":{"paddingInner":0.32,"paddingOuter":0.3},"axis":{"labelExpr":"split(datum.label, ' ')","labelFontSize":7.5,"labelLineHeight":8.5}},"x":{"field":"pct","type":"quantitative","title":null,"scale":{"domain":[0,100]},"axis":{"values":[0,2,4,6,8,10,12,14,16,18,20,22,24,26,28,30,32,34,36,38,40,42,44,46,48,50,52,54,56,58,60,62,64,66,68,70,72,74,76,78,80,82,84,86,88,90,92,94,96,98,100],"labelExpr":"datum.value % 20 === 0 ? datum.label : ''","labelOverlap":false,"tickSize":{"condition":{"test":"datum.value % 20 === 0","value":3.5},"value":2},"labelFontSize":7.5}},"color":{"field":"cluster","type":"nominal","legend":null,"scale":{"domain":["Cluster-01","Cluster-02","Cluster-03","Cluster-04","Cluster-05","Cluster-06","Cluster-07","Cluster-08","Cluster-09","Cluster-10","Cluster-11","Cluster-12","Other-Seqs"],"range":["#FF0000","#7A0000","#FF6B6B","#7D0040","#FF1A8C","#FF33FF","#E8282E","#B5393D","#E0407F","#00007F","#0A3CFF","#66CCFF","#A6A6A6"]}},"order":{"field":"cluster","type":"ordinal","sort":"ascending"}}}
]}
]
},
{
"width": 70, "height": 330,
"layer": [
{"data":{"name":"keys"},"mark":{"type":"square","size":75,"opacity":1,"xOffset":-24},"encoding":{"y":{"field":"i","type":"quantitative","scale":{"domain":[-11.13,15.92],"reverse":true},"axis":null},"color":{"field":"cluster","type":"nominal","legend":null,"scale":{"domain":["Cluster-01","Cluster-02","Cluster-03","Cluster-04","Cluster-05","Cluster-06","Cluster-07","Cluster-08","Cluster-09","Cluster-10","Cluster-11","Cluster-12","Other-Seqs"],"range":["#FF0000","#7A0000","#FF6B6B","#7D0040","#FF1A8C","#FF33FF","#E8282E","#B5393D","#E0407F","#00007F","#0A3CFF","#66CCFF","#A6A6A6"]}}}},
{"data":{"name":"keys"},"mark":{"type":"text","align":"left","baseline":"middle","fontSize":7,"xOffset":-15,"color":"#000"},"encoding":{"y":{"field":"i","type":"quantitative","scale":{"domain":[-11.13,15.92],"reverse":true},"axis":null},"text":{"field":"cluster"}}},
{"data":{"values":[{"label":"Key","i":-0.2}]},"mark":{"type":"text","align":"left","baseline":"middle","fontSize":7.5,"xOffset":-7,"color":"#000"},"encoding":{"y":{"field":"i","type":"quantitative","scale":{"domain":[-11.13,15.92],"reverse":true},"axis":null},"text":{"field":"label"}}},
{"data":{"name":"groups"},"transform":[{"filter":"datum.g == 'Type A-like'"}],"mark":{"type":"rule","color":"#FF0000","strokeWidth":1.3,"xOffset":19},"encoding":{"y":{"field":"from","type":"quantitative","scale":{"domain":[-11.13,15.92],"reverse":true},"axis":null},"y2":{"field":"to"}}},
{"data":{"name":"groups"},"transform":[{"filter":"datum.g == 'Type B-like'"}],"mark":{"type":"rule","color":"#0000FF","strokeWidth":1.3,"xOffset":19},"encoding":{"y":{"field":"from","type":"quantitative","scale":{"domain":[-11.13,15.92],"reverse":true},"axis":null},"y2":{"field":"to"}}},
{"data":{"name":"groups"},"transform":[{"filter":"datum.g == 'Type A-like'"}],"mark":{"type":"text","angle":270,"align":"center","baseline":"middle","fontSize":8,"fontWeight":"bold","color":"#FF0000","xOffset":26},"encoding":{"y":{"field":"mid","type":"quantitative","scale":{"domain":[-11.13,15.92],"reverse":true},"axis":null},"text":{"field":"g"}}},
{"data":{"name":"groups"},"transform":[{"filter":"datum.g == 'Type B-like'"}],"mark":{"type":"text","angle":270,"align":"center","baseline":"middle","fontSize":8,"fontWeight":"bold","color":"#0000FF","xOffset":26},"encoding":{"y":{"field":"mid","type":"quantitative","scale":{"domain":[-11.13,15.92],"reverse":true},"axis":null},"text":{"field":"g"}}}
]
},
{
"spacing": 8,
"vconcat": [
{"width":141,"height":20,"title":{"text":"(b)","color":"#000","fontSize":12,"dx":-29,"offset":-1},"data":{"values":[{"k":"(b)"}]},"mark":{"type":"point","opacity":0},"encoding":{}},
{"spacing": 1, "hconcat": [
{"width":141,"height":93,"title":{"text":"Site 1","color":"#2E8DEF","dx":4,"offset":0},"data":{"name":"pv"},"transform":[{"filter":"datum.s == 1"}],"mark":{"type":"circle","size":7,"color":"#000","opacity":1},"encoding":{"x":{"field":"p","type":"quantitative","title":null,"scale":{"domain":[0.05,1.0],"nice":false,"zero":false},"axis":{"values":[0.06,0.08,0.1,0.12,0.14,0.16,0.18,0.2,0.22,0.24,0.26,0.28,0.3,0.32,0.34,0.36,0.38,0.4,0.42,0.44,0.46,0.48,0.5,0.52,0.54,0.56,0.58,0.6,0.62,0.64,0.66,0.68,0.7,0.72,0.74,0.76,0.78,0.8,0.82,0.84,0.86,0.88,0.9,0.92,0.94,0.96,0.98,1.0],"labelExpr":"abs(datum.value*5 - round(datum.value*5)) < 0.001 ? format(datum.value, '.1f') : ''","labelOverlap":false,"tickSize":{"condition":{"test":"abs(datum.value*5 - round(datum.value*5)) < 0.001","value":3},"value":2},"labelFontSize":6.5}},"y":{"field":"t","type":"nominal","title":null,"sort":["2017","2018","2019 (e)","2019 (l)"],"scale":{"padding":0.6},"axis":{"labelFontSize":7.5}}}},
{"width":141,"height":93,"title":{"text":"Site 2","color":"#18883A","dx":4,"offset":0},"data":{"name":"pv"},"transform":[{"filter":"datum.s == 2"}],"mark":{"type":"circle","size":7,"color":"#000","opacity":1},"encoding":{"x":{"field":"p","type":"quantitative","title":null,"scale":{"domain":[0.05,1.0],"nice":false,"zero":false},"axis":{"values":[0.06,0.08,0.1,0.12,0.14,0.16,0.18,0.2,0.22,0.24,0.26,0.28,0.3,0.32,0.34,0.36,0.38,0.4,0.42,0.44,0.46,0.48,0.5,0.52,0.54,0.56,0.58,0.6,0.62,0.64,0.66,0.68,0.7,0.72,0.74,0.76,0.78,0.8,0.82,0.84,0.86,0.88,0.9,0.92,0.94,0.96,0.98,1.0],"labelExpr":"abs(datum.value*5 - round(datum.value*5)) < 0.001 ? format(datum.value, '.1f') : ''","labelOverlap":false,"tickSize":{"condition":{"test":"abs(datum.value*5 - round(datum.value*5)) < 0.001","value":3},"value":2},"labelFontSize":6.5}},"y":{"field":"t","type":"nominal","title":null,"sort":["2017","2018","2019 (e)","2019 (l)"],"scale":{"padding":0.6},"axis":{"labelFontSize":7.5}}}}
]},
{"spacing": 1, "hconcat": [
{"width":141,"height":96,"title":{"text":"Site 3","color":"#8F8A1C","dx":4,"offset":0},"data":{"name":"pv"},"transform":[{"filter":"datum.s == 3"}],"mark":{"type":"circle","size":7,"color":"#000","opacity":1},"encoding":{"x":{"field":"p","type":"quantitative","title":null,"scale":{"domain":[0.05,1.0],"nice":false,"zero":false},"axis":{"values":[0.06,0.08,0.1,0.12,0.14,0.16,0.18,0.2,0.22,0.24,0.26,0.28,0.3,0.32,0.34,0.36,0.38,0.4,0.42,0.44,0.46,0.48,0.5,0.52,0.54,0.56,0.58,0.6,0.62,0.64,0.66,0.68,0.7,0.72,0.74,0.76,0.78,0.8,0.82,0.84,0.86,0.88,0.9,0.92,0.94,0.96,0.98,1.0],"labelExpr":"abs(datum.value*5 - round(datum.value*5)) < 0.001 ? format(datum.value, '.1f') : ''","labelOverlap":false,"tickSize":{"condition":{"test":"abs(datum.value*5 - round(datum.value*5)) < 0.001","value":3},"value":2},"labelFontSize":6.5}},"y":{"field":"t","type":"nominal","title":null,"sort":["2017","2018","2019 (e)","2019 (l)"],"scale":{"padding":0.6},"axis":{"labelFontSize":7.5}}}},
{"width":141,"height":96,"title":{"text":"Site 4","color":"#FF8020","dx":4,"offset":0},"data":{"name":"pv"},"transform":[{"filter":"datum.s == 4"}],"mark":{"type":"circle","size":7,"color":"#000","opacity":1},"encoding":{"x":{"field":"p","type":"quantitative","title":null,"scale":{"domain":[0.05,1.0],"nice":false,"zero":false},"axis":{"values":[0.06,0.08,0.1,0.12,0.14,0.16,0.18,0.2,0.22,0.24,0.26,0.28,0.3,0.32,0.34,0.36,0.38,0.4,0.42,0.44,0.46,0.48,0.5,0.52,0.54,0.56,0.58,0.6,0.62,0.64,0.66,0.68,0.7,0.72,0.74,0.76,0.78,0.8,0.82,0.84,0.86,0.88,0.9,0.92,0.94,0.96,0.98,1.0],"labelExpr":"abs(datum.value*5 - round(datum.value*5)) < 0.001 ? format(datum.value, '.1f') : ''","labelOverlap":false,"tickSize":{"condition":{"test":"abs(datum.value*5 - round(datum.value*5)) < 0.001","value":3},"value":2},"labelFontSize":6.5}},"y":{"field":"t","type":"nominal","title":null,"sort":["2017","2018","2019 (e)","2019 (l)"],"scale":{"padding":0.6},"axis":{"labelFontSize":7.5}}}}
]},
{"spacing": 1, "title": {"text": "Fisher's Exact Test p-value", "orient": "bottom", "anchor": "middle", "frame": "bounds", "fontSize": 9.5, "offset": 13, "color": "#000"}, "hconcat": [
{"width":141,"height":97,"title":{"text":"Site 5","color":"#8B1A1A","dx":4,"offset":0},"data":{"name":"pv"},"transform":[{"filter":"datum.s == 5"}],"mark":{"type":"circle","size":7,"color":"#000","opacity":1},"encoding":{"x":{"field":"p","type":"quantitative","title":null,"scale":{"domain":[0.05,1.0],"nice":false,"zero":false},"axis":{"values":[0.06,0.08,0.1,0.12,0.14,0.16,0.18,0.2,0.22,0.24,0.26,0.28,0.3,0.32,0.34,0.36,0.38,0.4,0.42,0.44,0.46,0.48,0.5,0.52,0.54,0.56,0.58,0.6,0.62,0.64,0.66,0.68,0.7,0.72,0.74,0.76,0.78,0.8,0.82,0.84,0.86,0.88,0.9,0.92,0.94,0.96,0.98,1.0],"labelExpr":"abs(datum.value*5 - round(datum.value*5)) < 0.001 ? format(datum.value, '.1f') : ''","labelOverlap":false,"tickSize":{"condition":{"test":"abs(datum.value*5 - round(datum.value*5)) < 0.001","value":3},"value":2},"labelFontSize":6.5}},"y":{"field":"t","type":"nominal","title":null,"sort":["2017","2018","2019 (e)","2019 (l)"],"scale":{"padding":0.6},"axis":{"labelFontSize":7.5}}}},
{"width":141,"height":97,"title":{"text":"Site 6","color":"#8B2FF0","dx":4,"offset":0},"data":{"name":"pv"},"transform":[{"filter":"datum.s == 6"}],"mark":{"type":"circle","size":7,"color":"#000","opacity":1},"encoding":{"x":{"field":"p","type":"quantitative","title":null,"scale":{"domain":[0.05,1.0],"nice":false,"zero":false},"axis":{"values":[0.06,0.08,0.1,0.12,0.14,0.16,0.18,0.2,0.22,0.24,0.26,0.28,0.3,0.32,0.34,0.36,0.38,0.4,0.42,0.44,0.46,0.48,0.5,0.52,0.54,0.56,0.58,0.6,0.62,0.64,0.66,0.68,0.7,0.72,0.74,0.76,0.78,0.8,0.82,0.84,0.86,0.88,0.9,0.92,0.94,0.96,0.98,1.0],"labelExpr":"abs(datum.value*5 - round(datum.value*5)) < 0.001 ? format(datum.value, '.1f') : ''","labelOverlap":false,"tickSize":{"condition":{"test":"abs(datum.value*5 - round(datum.value*5)) < 0.001","value":3},"value":2},"labelFontSize":6.5}},"y":{"field":"t","type":"nominal","title":null,"sort":["2017","2018","2019 (e)","2019 (l)"],"scale":{"padding":0.6},"axis":{"labelFontSize":7.5}}}}
]}
]
}
],
"config": {
"font": "Liberation Sans",
"view": {"stroke": null},
"axis": {"grid": false, "domainColor": "#000", "domainWidth": 1.3, "tickColor": "#000", "tickSize": 3, "tickWidth": 1, "labelFont": "Liberation Sans", "labelFontWeight": "bold", "labelColor": "#000", "labelPadding": 1},
"title": {"font": "Liberation Sans", "fontWeight": "bold", "fontSize": 12.5, "anchor": "start", "frame": "group", "offset": 0}
}
}
